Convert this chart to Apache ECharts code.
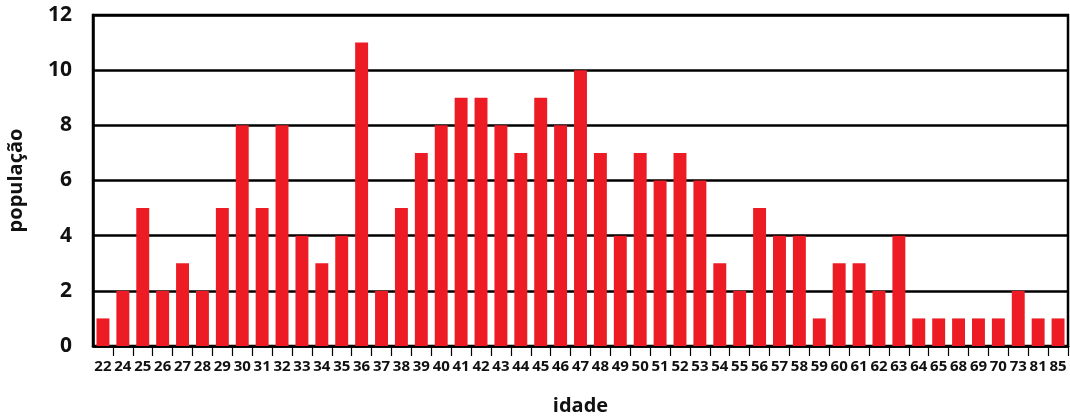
<!DOCTYPE html>
<html><head><meta charset="utf-8">
<script src="https://cdn.jsdelivr.net/npm/echarts@6/dist/echarts.min.js"></script>
<style>html,body{margin:0;padding:0;background:#fff}#c{width:1070px;height:417px}</style>
</head><body><div id="c"></div>
<script>
const idades = ['22','24','25','26','27','28','29','30','31','32','33','34','35','36','37','38','39','40','41','42','43','44','45','46','47','48','49','50','51','52','53','54','55','56','57','58','59','60','61','62','63','64','65','68','69','70','73','81','85'];
const populacao = [1,2,5,2,3,2,5,8,5,8,4,3,4,11,2,5,7,8,9,9,8,7,9,8,10,7,4,7,6,7,6,3,2,5,4,4,1,3,3,2,4,1,1,1,1,1,2,1,1];
const yTicks = {min:0, max:12, interval:2};

const chart = echarts.init(document.getElementById('c'));
const F = '"Open Sans", "Noto Sans", sans-serif';
chart.setOption({
  animation:false,
  grid:{left:93, right:2, top:15, bottom:71, containLabel:false, outerBoundsMode:'none', show:true, borderColor:'#000', borderWidth:2.5, backgroundColor:'transparent'},
  xAxis:{type:'category', data:idades,
    name:'idade', nameLocation:'middle', nameGap:50,
    nameTextStyle:{fontFamily:F, fontWeight:'bold', fontSize:20, color:'#111'},
    axisLine:{lineStyle:{color:'#000', width:2.5}},
    axisTick:{show:true, length:10, interval:function(i){return i>0;}, lineStyle:{color:'#000', width:1.2}},
    axisLabel:{interval:0, hideOverlap:false, fontFamily:F, fontWeight:'bold', fontSize:15, color:'#111', margin:13, letterSpacing:-0.6}
  },
  yAxis:{type:'value', min:yTicks.min, max:yTicks.max, interval:yTicks.interval,
    name:'população', nameLocation:'middle', nameGap:67,
    nameTextStyle:{fontFamily:F, fontWeight:'bold', fontSize:20, color:'#111'},
    axisLine:{show:true, lineStyle:{color:'#000', width:2.5}},
    axisTick:{show:false},
    splitLine:{lineStyle:{color:'#000', width:2.5}},
    axisLabel:{fontFamily:F, fontWeight:'bold', fontSize:21, color:'#111', margin:21}
  },
  series:[{type:'bar', data:populacao, barCategoryGap:'35%', itemStyle:{color:'#ED1C24'}}]
});
</script></body></html>
